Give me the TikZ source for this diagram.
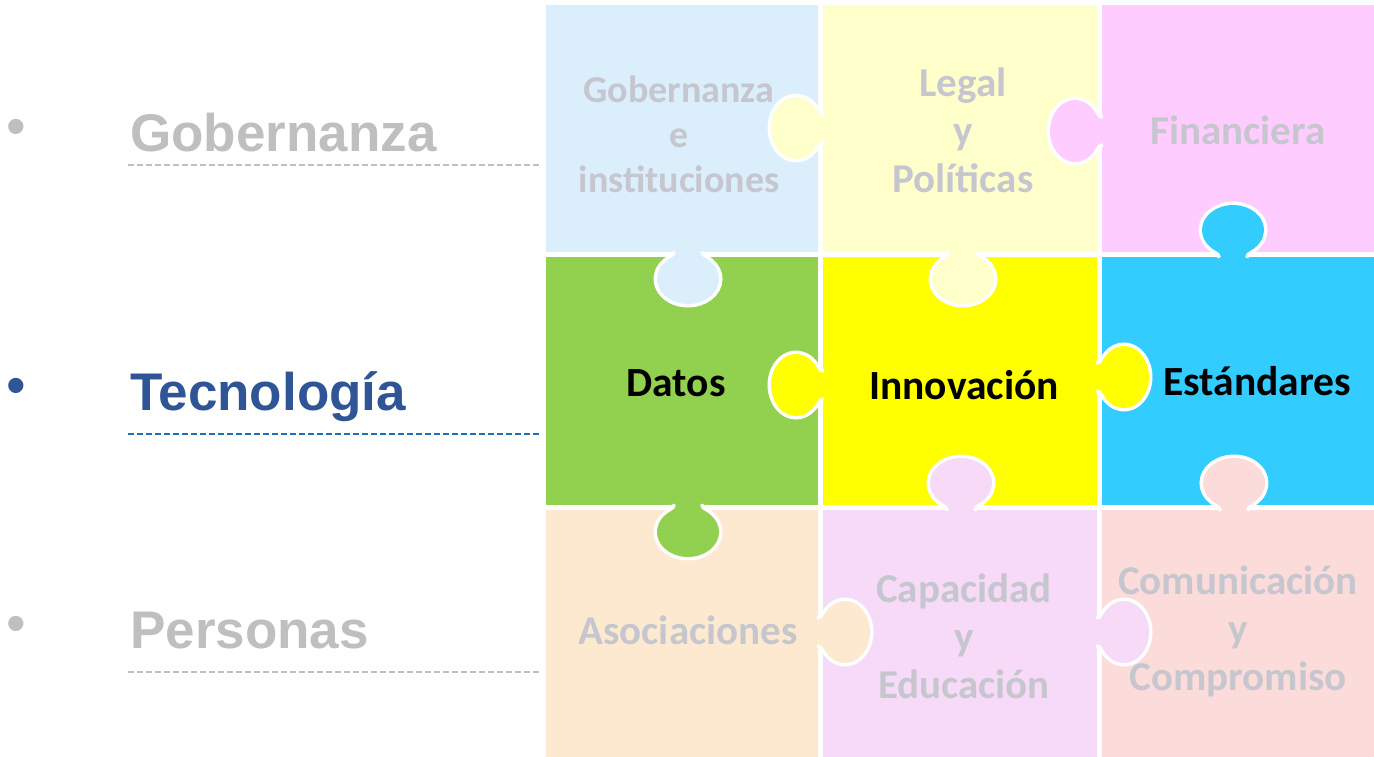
\documentclass[tikz,border=0pt]{standalone}
\usepackage{fontspec}
\setmainfont{Carlito}
\newfontfamily\lsans{Liberation Sans}
\definecolor{cgob}{RGB}{218,238,251}
\definecolor{cleg}{RGB}{255,255,204}
\definecolor{cfin}{RGB}{255,204,255}
\definecolor{cdat}{RGB}{146,208,80}
\definecolor{cinn}{RGB}{255,255,0}
\definecolor{cest}{RGB}{51,204,255}
\definecolor{caso}{RGB}{253,233,208}
\definecolor{ccap}{RGB}{246,218,248}
\definecolor{ccom}{RGB}{252,220,218}
\definecolor{gtext}{RGB}{198,198,206}
\definecolor{lgray}{RGB}{191,191,191}
\definecolor{tblue}{RGB}{47,85,151}
\definecolor{dblue}{RGB}{30,110,185}
\newcommand{\pknob}[3]{%
  \begin{scope}[shift={#1},rotate=#2]
    \draw[white,line width=7pt] (-12,0) to[out=90,in=-29] (-17.8,6.5)
      arc[start angle=235,end angle=-55,x radius=31pt,y radius=25pt]
      to[out=-151,in=90] (12,0);
    \fill[#3] (-12,0) to[out=90,in=-29] (-17.8,6.5)
      arc[start angle=235,end angle=-55,x radius=31pt,y radius=25pt]
      to[out=-151,in=90] (12,0) -- cycle;
  \end{scope}}
\begin{document}
\begin{tikzpicture}[x=1pt,y=1pt,
  ptext/.style={font=\fontsize{41}{48}\selectfont\bfseries, text=gtext, align=center, inner sep=0pt},
  ktext/.style={font=\fontsize{41.5}{48}\selectfont\bfseries, text=black, inner sep=0pt},
  lbl/.style={font=\fontsize{53}{60}\selectfont\lsans\bfseries, anchor=base west, inner sep=0pt},
  bul/.style={font=\fontsize{56}{56}\selectfont\lsans, inner sep=0pt},
  uline/.style={dash pattern=on 6pt off 3pt, line width=1.3pt}]
\useasboundingbox (0,0) rectangle (1374,-757);
\fill[white] (0,0) rectangle (1374,-757);
% cells
\fill[cgob] (546,-5) rectangle (818,-252);
\fill[cleg] (823,-5) rectangle (1097,-252);
\fill[cfin] (1102,-5) rectangle (1374,-252);
\fill[cdat] (546,-257) rectangle (818,-505);
\fill[cinn] (823,-257) rectangle (1097,-505);
\fill[cest] (1102,-257) rectangle (1374,-505);
\fill[caso] (546,-510) rectangle (818,-757);
\fill[ccap] (823,-510) rectangle (1097,-757);
\fill[ccom] (1102,-510) rectangle (1374,-757);
% knobs
\pknob{(823,-128)}{90}{cleg}
\pknob{(1102,-131)}{90}{cfin}
\pknob{(688,-252)}{180}{cgob}
\pknob{(963,-252)}{180}{cleg}
\pknob{(1233,-257)}{0}{cest}
\pknob{(823,-385)}{90}{cinn}
\pknob{(1097,-377)}{-90}{cinn}
\pknob{(688,-505)}{180}{cdat}
\pknob{(961,-510)}{0}{ccap}
\pknob{(1234,-510)}{0}{ccom}
\pknob{(818,-632)}{-90}{caso}
\pknob{(1097,-632)}{-90}{ccap}
% puzzle texts
\node[ptext, font=\fontsize{38}{45}\selectfont\bfseries] (tgob) at (679,-134) {Gobernanza\\e\\instituciones};
\node[ptext] (tleg) at (963,-130) {Legal\\y\\Políticas};
\node[ptext] (tfin) at (1238,-130) {Financiera};
\node[ktext] (tdat) at (676,-383) {Datos};
\node[ktext] (tinn) at (964,-385) {Innovación};
\node[ktext] (test) at (1257,-381) {Estándares};
\node[ptext] (taso) at (688,-630) {Asociaciones};
\node[ptext] (tcap) at (964,-636) {Capacidad\\y\\Educación};
\node[ptext] (tcom) at (1238,-631) {Comunicación\\y\\Compromiso};
% left list
\node[bul, text=lgray] (b1) at (16.5,-132.5) {•};
\node[lbl, text=lgray] (l1) at (130,-152) {Gobernanza};
\draw[uline, lgray] (128,-165) -- (540,-165);
\node[bul, text=tblue] (b2) at (16.5,-391) {•};
\node[lbl, text=tblue] (l2) at (130,-410) {Tecnología};
\draw[uline, dblue] (128,-434) -- (540,-434);
\node[bul, text=lgray] (b3) at (16.5,-629) {•};
\node[lbl, text=lgray] (l3) at (130,-648) {Personas};
\draw[uline, lgray] (128,-672) -- (540,-672);
\end{tikzpicture}
\end{document}
